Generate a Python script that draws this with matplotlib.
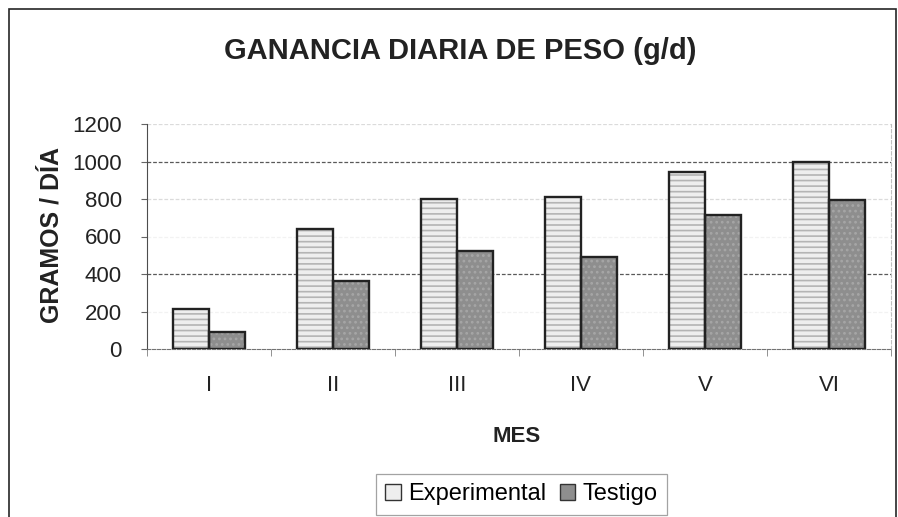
import matplotlib.pyplot as plt
import numpy as np
from matplotlib.patches import Rectangle

# data
months = ["I", "II", "III", "IV", "V", "VI"]
experimental = [213, 640, 800, 810, 944, 1000]
testigo = [90, 363, 523, 492, 713, 795]
yticks = [0, 200, 400, 600, 800, 1000, 1200]

W, H = 898, 517
plt.rcParams["font.family"] = ["Liberation Sans", "DejaVu Sans"]
plt.rcParams["hatch.linewidth"] = 1.2

fig = plt.figure(figsize=(W / 100, H / 100), dpi=100)
fig.patch.set_facecolor("white")

# outer chart frame
fig.add_artist(Rectangle((9 / W, -0.05), (896 - 9) / W, 1.05 - 9 / H, transform=fig.transFigure,
                         fill=False, edgecolor="0.15", linewidth=1.2))

ax = fig.add_axes([147 / W, 1 - 349 / H, (891 - 147) / W, (349 - 124) / H])
x = np.arange(len(months))
bw = 0.29

# pattern fills (hatch takes the edge colour, so outlines are drawn separately)
ax.bar(x - bw / 2, experimental, bw, color="#eeeeee", edgecolor="#b4b4b4",
       linewidth=0, hatch="---", zorder=3)
ax.bar(x + bw / 2, testigo, bw, color="#8e8e8e", edgecolor="#a6a6a6",
       linewidth=0, hatch="...", zorder=3)
ax.bar(x - bw / 2, experimental, bw, facecolor="none", edgecolor="#222222",
       linewidth=1.7, zorder=4)
ax.bar(x + bw / 2, testigo, bw, facecolor="none", edgecolor="#222222",
       linewidth=1.7, zorder=4)

ax.set_xlim(-0.5, len(months) - 0.5)
ax.set_ylim(0, 1200)
ax.set_yticks(yticks)
ax.set_xticks(x)
ax.set_xticklabels(months)
ax.set_xticks(np.arange(len(months) + 1) - 0.5, minor=True)
ax.tick_params(axis="x", which="major", length=0, labelsize=16, pad=19, colors="#222222")
ax.tick_params(axis="x", which="minor", length=5, color="0.5")
ax.tick_params(axis="y", length=4, labelsize=16, pad=14, colors="#222222", color="0.4")

# scanned original: 400/1000 gridlines dark, others faint
grid_shade = {200: "0.95", 400: "0.35", 600: "0.95", 800: "0.86", 1000: "0.35", 1200: "0.86"}
for v in yticks[1:]:
    ax.axhline(v, color=grid_shade[v], linewidth=0.9, linestyle=(0, (3, 1.5)), zorder=1)

ax.spines["top"].set_visible(False)
ax.spines["left"].set_color("0.3")
ax.spines["bottom"].set_color("0.45")
ax.spines["bottom"].set_linestyle((0, (3, 1.5)))
ax.spines["right"].set_color("0.75")
ax.spines["right"].set_linestyle((0, (3, 2)))

fig.text(460 / W, 1 - 51 / H, "GANANCIA DIARIA DE PESO (g/d)", ha="center", va="center",
         fontsize=21, fontweight="bold", color="#222222")
fig.text(52 / W, 1 - 235 / H, "GRAMOS / DÍA", ha="center", va="center", rotation=90,
         fontsize=18, fontweight="bold", color="#222222")
fig.text(517 / W, 1 - 436 / H, "MES", ha="center", va="center",
         fontsize=16, fontweight="bold", color="#222222")

leg_exp = Rectangle((0, 0), 1, 1, facecolor="#eeeeee", edgecolor="#333333", linewidth=1.0)
leg_tes = Rectangle((0, 0), 1, 1, facecolor="#8e8e8e", edgecolor="#333333", linewidth=1.0)
leg = fig.legend(handles=[leg_exp, leg_tes], labels=["Experimental", "Testigo"],
                 loc="upper left", bbox_to_anchor=(364 / W, 1 - 462 / H),
                 ncol=2, frameon=True, fancybox=False, fontsize=17, handlelength=0.65,
                 handleheight=0.65, handletextpad=0.3, columnspacing=0.6, borderpad=0.4)
leg.get_frame().set_edgecolor("0.55")
leg.get_frame().set_linewidth(0.9)

fig.savefig("out.png", dpi=100)
